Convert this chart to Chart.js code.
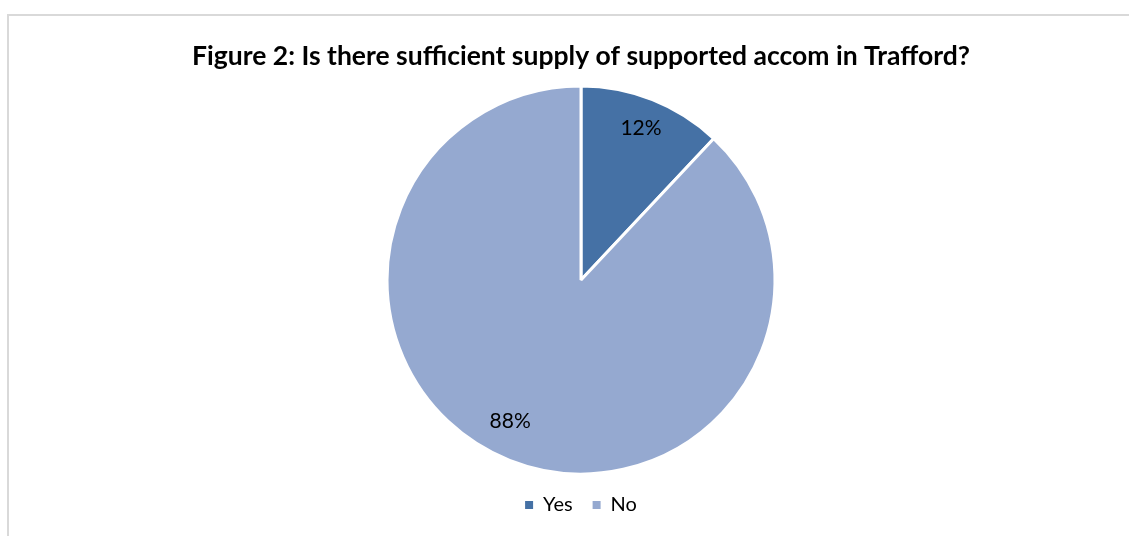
<!DOCTYPE html>
<html>
<head>
<meta charset="utf-8">
<script src="https://cdn.jsdelivr.net/npm/chart.js@4.4.1/dist/chart.umd.min.js"></script>
<style>
    body { margin: 0; background: #ffffff; }
    #frame {
        position: absolute; left: 7px; top: 14px; width: 1122px; height: 522px;
        border-left: 2px solid #d9d9d9; border-top: 2px solid #d9d9d9;
        box-sizing: border-box;
    }
    #pieChart { position: absolute; left: 0; top: 0; }
</style>
</head>
<body>
<div id="frame"></div>
<canvas id="pieChart" width="1129" height="536"></canvas>
<script>
// Chart data
const categories = ['Yes', 'No'];
const shares = [12, 88];
const sliceColors = ['#4571a5', '#95a9d0'];
const chartTitle = 'Figure 2: Is there sufficient supply of supported accom in Trafford?';

// Where each percentage label sits inside its slice (fraction of radius, angle nudge in degrees)
const labelRadius = [0.84, 0.815];
const labelNudge = [0, 5];

// Draw the percentage labels inside the slices
const sliceLabels = {
    id: 'sliceLabels',
    afterDatasetsDraw(chart) {
        const ctx = chart.ctx;
        const meta = chart.getDatasetMeta(0);
        ctx.save();
        ctx.font = '21px Lato';
        ctx.fillStyle = '#000000';
        ctx.textAlign = 'center';
        ctx.textBaseline = 'middle';
        meta.data.forEach((arc, i) => {
            const mid = (arc.startAngle + arc.endAngle) / 2 + labelNudge[i] * Math.PI / 180;
            const r = arc.outerRadius * labelRadius[i];
            ctx.fillText(shares[i] + '%', arc.x + Math.cos(mid) * r, arc.y + Math.sin(mid) * r);
        });
        ctx.restore();
    }
};

const ctx = document.getElementById('pieChart');

new Chart(ctx, {
    type: 'pie',
    data: {
        labels: categories,
        datasets: [{
            data: shares,
            backgroundColor: sliceColors,
            borderColor: '#ffffff',
            borderWidth: 3
        }]
    },
    options: {
        responsive: false,
        animation: false,
        radius: 194,
        layout: {
            padding: { left: 33, right: 0, top: 0, bottom: 11 }
        },
        plugins: {
            title: {
                display: true,
                text: chartTitle,
                color: '#000000',
                font: { family: 'Lato', size: 26.5, weight: 'bold' },
                padding: { top: 40.1, bottom: 13.1 }
            },
            legend: {
                position: 'bottom',
                labels: {
                    color: '#000000',
                    font: { family: 'Lato', size: 20 },
                    boxWidth: 8,
                    boxHeight: 8,
                    padding: 20,
                    generateLabels(chart) {
                        const items = Chart.overrides.pie.plugins.legend.labels.generateLabels(chart);
                        items.forEach(item => { item.lineWidth = 0; });
                        return items;
                    }
                }
            },
            tooltip: { enabled: false }
        }
    },
    plugins: [sliceLabels]
});
</script>
</body>
</html>
